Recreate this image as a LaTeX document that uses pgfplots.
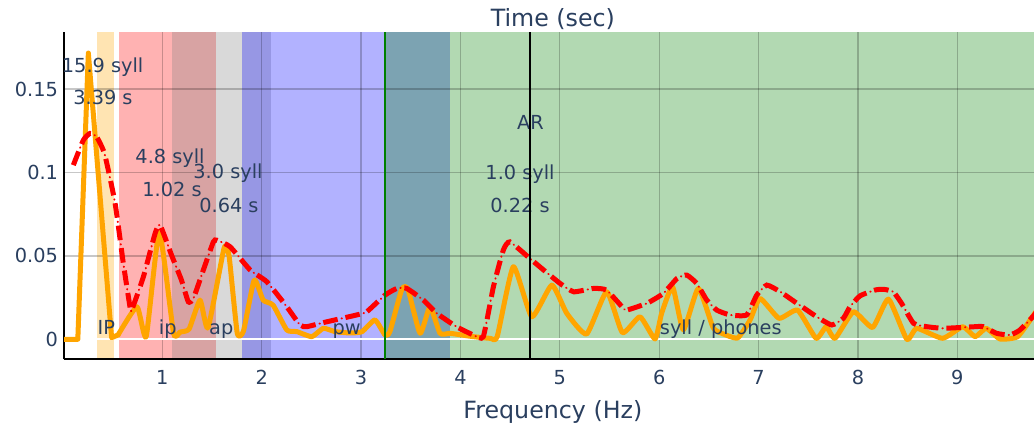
\documentclass[border=0pt]{standalone}
\usepackage{fontspec}
\setmainfont{DejaVu Sans}
\usepackage{pgfplots}
\pgfplotsset{compat=1.18}
\definecolor{textcol}{RGB}{42,63,95}
\definecolor{plyorange}{RGB}{255,165,0}
\definecolor{plygreen}{RGB}{0,128,0}
\newcommand{\tickfont}{\fontsize{14.5}{17}\selectfont}
\newcommand{\titlefont}{\fontsize{17.8}{21}\selectfont}
\begin{document}
\begin{tikzpicture}
\begin{axis}[
  set layers,
  scale only axis, width=727.5pt, height=245.25pt,
  xmin=0.011, xmax=9.772, ymin=-0.012, ymax=0.184,
  axis lines*=left,
  axis line style={black, line width=1.5pt},
  xtick={1,2,3,4,5,6,7,8,9}, xticklabels={1,2,3,4,5,6,7,8,9},
  ytick={0,0.05,0.1,0.15}, yticklabels={0,0.05,0.1,0.15},
  major tick length=0pt,
  grid=major,
  grid style={draw=black, draw opacity=0.22, line width=0.9pt},
  tick label style={font=\tickfont, text=textcol},
  xticklabel style={anchor=base, yshift=-18.75pt},
  yticklabel style={anchor=east, inner sep=0pt, xshift=-4.3pt},
  title={Time (sec)},
  title style={at={(0.504,1.019)}, anchor=base, font=\titlefont, text=textcol, inner sep=0pt, yshift=-6pt},
  xlabel={Frequency (Hz)},
  xlabel style={at={(0.504,-0.180)}, anchor=base, font=\titlefont, text=textcol, inner sep=0pt},
]
% bands
\addplot[on layer=axis background, draw=none, fill=plyorange, fill opacity=0.3] coordinates {(0.346,-0.012) (0.346,0.184) (0.514,0.184) (0.514,-0.012)} -- cycle;
\addplot[on layer=axis background, draw=none, fill=red, fill opacity=0.3] coordinates {(0.565,-0.012) (0.565,0.184) (1.544,0.184) (1.544,-0.012)} -- cycle;
\addplot[on layer=axis background, draw=none, fill=gray, fill opacity=0.3] coordinates {(1.101,-0.012) (1.101,0.184) (2.091,0.184) (2.091,-0.012)} -- cycle;
\addplot[on layer=axis background, draw=none, fill=blue, fill opacity=0.3] coordinates {(1.802,-0.012) (1.802,0.184) (3.895,0.184) (3.895,-0.012)} -- cycle;
\addplot[on layer=axis background, draw=none, fill=plygreen, fill opacity=0.3] coordinates {(3.241,-0.012) (3.241,0.184) (10,0.184) (10,-0.012)} -- cycle;
% zero line
\addplot[white, line width=1.5pt] coordinates {(0,0) (10,0)};
% orange curve (first peak straight, rest smoothed)
\addplot[plyorange, line width=3.75pt, line join=round, line cap=round] coordinates {
(0.011,0) (0.15,0) (0.256,0.1716) (0.49,0.001) (0.555,0.0026)};
\addplot[plyorange, line width=3.75pt, line join=round, line cap=round, smooth, tension=0.3] coordinates {
(0.555,0.0026) (0.745,0.0195) (0.838,0.0016) (0.97,0.0644) (1.113,0.0038) (1.18,0.0044) (1.27,0.0062) (1.38,0.0235) (1.46,0.0068) (1.622,0.0547) (1.672,0.050) (1.754,0.0038) (1.817,0.005) (1.925,0.0355) (2.015,0.0235) (2.115,0.0205) (2.253,0.0056) (2.355,0.0046) (2.505,0.0016) (2.62,0.0066) (2.74,0.0046) (2.89,0.0038) (3.01,0.0046) (3.14,0.0116) (3.241,0.0026) (3.29,0.0046) (3.41,0.030) (3.472,0.030) (3.594,0.0036) (3.694,0.0195) (3.795,0.0036) (3.895,0.0036) (4.013,0.0026) (4.13,0.0016) (4.30,0.0006) (4.37,0.0016) (4.533,0.0435) (4.718,0.0135) (4.92,0.0325) (5.07,0.0156) (5.27,0.0032) (5.472,0.0285) (5.63,0.004) (5.807,0.0135) (5.958,0.0002) (6.025,0.0156) (6.135,0.0315) (6.243,0.0056) (6.394,0.0305) (6.542,0.0071) (6.63,0.0036) (6.789,0.0008) (6.915,0.0116) (7.015,0.0245) (7.206,0.0126) (7.393,0.0175) (7.579,0.0006) (7.68,0.0075) (7.77,0.0006) (7.955,0.0165) (8.148,0.0071) (8.307,0.0241) (8.492,0) (8.593,0.0066) (8.852,0.0006) (9.054,0.0075) (9.18,0.0016) (9.29,0.0066) (9.43,0.0002) (9.607,0.0016) (9.773,0.015) (9.85,0.022)};
% red curve (dashes + dots)
\addplot[red, line width=3.75pt, dash pattern=on 11pt off 6pt, smooth, tension=0.3] coordinates {
(0.105,0.1044) (0.205,0.1193) (0.272,0.1234) (0.34,0.1213) (0.42,0.111) (0.525,0.0816) (0.608,0.0455) (0.675,0.0195) (0.692,0.0175) (0.81,0.0375) (0.928,0.0635) (0.978,0.0684) (1.093,0.0505) (1.193,0.0355) (1.262,0.0225) (1.313,0.0245) (1.413,0.0415) (1.514,0.0584) (1.549,0.0594) (1.682,0.0555) (1.885,0.0415) (2.052,0.0345) (2.253,0.0195) (2.386,0.0086) (2.455,0.0076) (2.655,0.0105) (2.956,0.0146) (3.057,0.0165) (3.241,0.0265) (3.36,0.0305) (3.46,0.0305) (3.627,0.0235) (3.762,0.0156) (3.963,0.0075) (4.13,0.0026) (4.23,0.0016) (4.332,0.0315) (4.432,0.0535) (4.498,0.0584) (4.698,0.0485) (4.838,0.0415) (5.003,0.0335) (5.14,0.0285) (5.34,0.0305) (5.47,0.0295) (5.64,0.0186) (5.675,0.0175) (5.877,0.0216) (6.042,0.0275) (6.18,0.0365) (6.277,0.0385) (6.378,0.0335) (6.479,0.0235) (6.58,0.0175) (6.714,0.0146) (6.88,0.0146) (6.982,0.0265) (7.083,0.0325) (7.218,0.0285) (7.386,0.0216) (7.586,0.0135) (7.737,0.0086) (7.853,0.0126) (7.92,0.0195) (8.02,0.026) (8.17,0.0295) (8.255,0.0300) (8.355,0.0285) (8.44,0.0215) (8.56,0.0096) (8.69,0.0076) (8.86,0.0066) (9.16,0.0075) (9.26,0.0076) (9.395,0.0036) (9.53,0.0026) (9.63,0.0056) (9.773,0.0145) (9.85,0.022)};
\addplot[red, line width=1.5pt, line cap=round, dash pattern=on 0.3pt off 16.7pt, dash phase=3pt, smooth, tension=0.3] coordinates {
(0.105,0.1044) (0.205,0.1193) (0.272,0.1234) (0.34,0.1213) (0.42,0.111) (0.525,0.0816) (0.608,0.0455) (0.675,0.0195) (0.692,0.0175) (0.81,0.0375) (0.928,0.0635) (0.978,0.0684) (1.093,0.0505) (1.193,0.0355) (1.262,0.0225) (1.313,0.0245) (1.413,0.0415) (1.514,0.0584) (1.549,0.0594) (1.682,0.0555) (1.885,0.0415) (2.052,0.0345) (2.253,0.0195) (2.386,0.0086) (2.455,0.0076) (2.655,0.0105) (2.956,0.0146) (3.057,0.0165) (3.241,0.0265) (3.36,0.0305) (3.46,0.0305) (3.627,0.0235) (3.762,0.0156) (3.963,0.0075) (4.13,0.0026) (4.23,0.0016) (4.332,0.0315) (4.432,0.0535) (4.498,0.0584) (4.698,0.0485) (4.838,0.0415) (5.003,0.0335) (5.14,0.0285) (5.34,0.0305) (5.47,0.0295) (5.64,0.0186) (5.675,0.0175) (5.877,0.0216) (6.042,0.0275) (6.18,0.0365) (6.277,0.0385) (6.378,0.0335) (6.479,0.0235) (6.58,0.0175) (6.714,0.0146) (6.88,0.0146) (6.982,0.0265) (7.083,0.0325) (7.218,0.0285) (7.386,0.0216) (7.586,0.0135) (7.737,0.0086) (7.853,0.0126) (7.92,0.0195) (8.02,0.026) (8.17,0.0295) (8.255,0.0300) (8.355,0.0285) (8.44,0.0215) (8.56,0.0096) (8.69,0.0076) (8.86,0.0066) (9.16,0.0075) (9.26,0.0076) (9.395,0.0036) (9.53,0.0026) (9.63,0.0056) (9.773,0.0145) (9.85,0.022)};
% annotations
\node[anchor=base, font=\tickfont, text=textcol] at (axis cs:0.40,0.1598) {15.9 syll};
\node[anchor=base, font=\tickfont, text=textcol] at (axis cs:0.403,0.1405) {3.39 s};
\node[anchor=base, font=\tickfont, text=textcol] at (axis cs:1.078,0.1051) {4.8 syll};
\node[anchor=base, font=\tickfont, text=textcol] at (axis cs:1.098,0.0855) {1.02 s};
\node[anchor=base, font=\tickfont, text=textcol] at (axis cs:1.661,0.0961) {3.0 syll};
\node[anchor=base, font=\tickfont, text=textcol] at (axis cs:1.671,0.0761) {0.64 s};
\node[anchor=base, font=\tickfont, text=textcol] at (axis cs:4.705,0.1259) {AR};
\node[anchor=base, font=\tickfont, text=textcol] at (axis cs:4.60,0.0955) {1.0 syll};
\node[anchor=base, font=\tickfont, text=textcol] at (axis cs:4.60,0.0761) {0.22 s};
\node[anchor=base, font=\tickfont, text=textcol] at (axis cs:0.437,0.0026) {IP};
\node[anchor=base, font=\tickfont, text=textcol] at (axis cs:1.055,0.0026) {ip};
\node[anchor=base, font=\tickfont, text=textcol] at (axis cs:1.593,0.0026) {ap};
\node[anchor=base, font=\tickfont, text=textcol] at (axis cs:2.856,0.0026) {pw};
\node[anchor=base, font=\tickfont, text=textcol] at (axis cs:6.62,0.0026) {syll / phones};
% vertical lines
\addplot[plygreen, line width=1.2pt] coordinates {(3.241,-0.012) (3.241,0.184)};
\addplot[black, line width=1.5pt] coordinates {(4.703,-0.012) (4.703,0.184)};
\end{axis}
\pgfresetboundingbox
\path[use as bounding box] (-48pt,-50pt) rectangle (727.5pt,269.5pt);
\end{tikzpicture}
\end{document}
